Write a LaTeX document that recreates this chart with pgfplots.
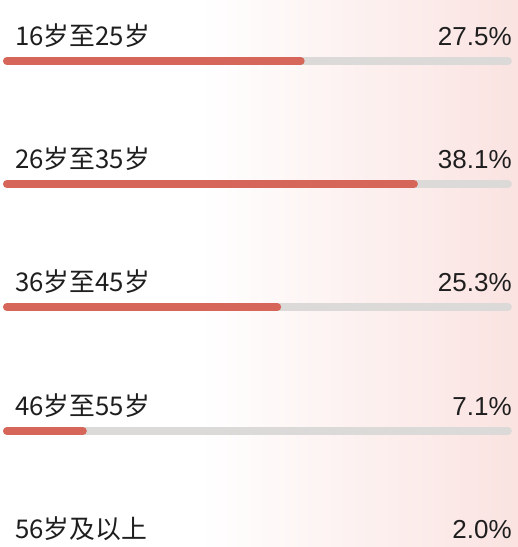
\documentclass[border=0pt]{standalone}
\usepackage{fontspec}
\setmainfont{Liberation Sans}
\newfontfamily\cjk{Noto Sans CJK SC}
\usepackage{pgfplots}
\usepackage{pgfplotstable}
\pgfplotsset{compat=1.18}
\definecolor{barred}{RGB}{214,102,90}
\definecolor{track}{RGB}{219,218,216}
\definecolor{bgpink}{RGB}{250,227,225}
\definecolor{txt}{RGB}{30,30,30}
\pgfplotstableread{
ly by v label
45 61 27.5 16岁至25岁
168 184 38.1 26岁至35岁
291 307 25.3 36岁至45岁
415 431 7.1 46岁至55岁
538 554 2.0 56岁及以上
}\agedata
\begin{document}
\begin{tikzpicture}[x=1pt,y=1pt]
\fill[white] (0,0) rectangle (200,547);
\shade[left color=white,right color=bgpink] (199.5,0) rectangle (518,547);
\begin{axis}[
  at={(0,0)}, anchor=south west,
  scale only axis, width=518pt, height=547pt,
  xmin=-0.655, xmax=47.85, ymin=0, ymax=547,
  y dir=reverse, hide axis, clip=true,
  /pgf/number format/assume math mode=true,
]
\addplot[xcomb, draw=track, line width=8pt, line cap=round]
  table[x expr=46.9, y=by] {\agedata};
\addplot[xcomb, draw=barred, line width=8pt, line cap=round]
  table[x=v, y=by] {\agedata};
\addplot[only marks, mark=none, nodes near coords={\cjk\pgfplotspointmeta},
  point meta=explicit symbolic,
  every node near coord/.append style={anchor=base west, inner sep=0pt, font=\fontsize{25.8}{29}\selectfont, text=txt}]
  table[x expr=0.75, y=ly, meta=label] {\agedata};
\addplot[only marks, mark=none, nodes near coords={\pgfmathprintnumber[fixed,fixed zerofill,precision=1]{\pgfplotspointmeta}\%},
  point meta=\thisrow{v},
  every node near coord/.append style={anchor=base east, inner sep=0pt, font=\fontsize{26}{30}\selectfont, text=txt}]
  table[x expr=47.28, y=ly] {\agedata};
\end{axis}
\end{tikzpicture}
\end{document}
